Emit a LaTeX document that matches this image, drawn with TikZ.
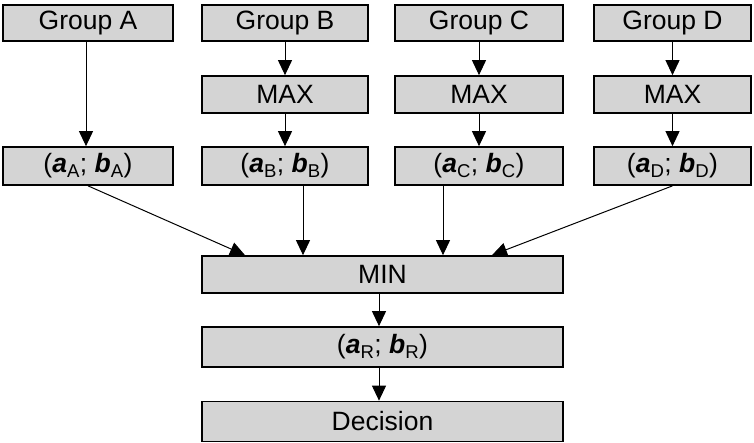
\documentclass[tikz,border=0pt]{standalone}
\usepackage{fontspec}
\setmainfont{Liberation Sans}
\usetikzlibrary{arrows.meta}
\definecolor{boxgray}{RGB}{212,212,212}
\newcommand\abpair[1]{({\bfseries\itshape a}\textsubscript{#1}; {\bfseries\itshape b}\textsubscript{#1})}
\begin{document}
\begin{tikzpicture}[x=1pt,y=1pt,
  box/.style={draw=black,fill=boxgray,line width=1.7pt,inner sep=0pt,
    font=\fontsize{26.5}{31}\selectfont},
  arr/.style={line width=1pt,-{Triangle[length=15pt,width=14pt]}}]
\useasboundingbox (0,0) rectangle (754,-443);
% top row
\node[box,minimum width=170pt,minimum height=36pt] (GA) at (88,-23) {Group A};
\node[box,minimum width=166pt,minimum height=36pt] (GB) at (285,-23) {Group B};
\node[box,minimum width=168pt,minimum height=36pt] (GC) at (479,-23) {Group C};
\node[box,minimum width=157pt,minimum height=36pt] (GD) at (672.5,-23) {Group D};
% MAX row
\node[box,minimum width=166pt,minimum height=37pt] (MB) at (285,-94.5) {MAX};
\node[box,minimum width=168pt,minimum height=37pt] (MC) at (479,-94.5) {MAX};
\node[box,minimum width=157pt,minimum height=37pt] (MD) at (672.5,-94.5) {MAX};
% pair row
\node[box,minimum width=170pt,minimum height=38pt] (PA) at (88,-166) {\abpair{A}};
\node[box,minimum width=166pt,minimum height=38pt] (PB) at (285,-166) {\abpair{B}};
\node[box,minimum width=168pt,minimum height=38pt] (PC) at (479,-166) {\abpair{C}};
\node[box,minimum width=157pt,minimum height=38pt] (PD) at (672.5,-166) {\abpair{D}};
% bottom
\node[box,minimum width=361pt,minimum height=37pt] (MIN) at (382.5,-274.5) {MIN};
\node[box,minimum width=361pt,minimum height=40pt] (PR) at (382.5,-347) {\abpair{R}};
\node[box,minimum width=361pt,minimum height=40pt] (DEC) at (382.5,-421.5) {Decision};
% arrows
\draw[arr] (GA.south -| 86,0) -- (PA.north -| 86,0);
\draw[arr] (GB) -- (MB);
\draw[arr] (MB) -- (PB);
\draw[arr] (GC) -- (MC);
\draw[arr] (MC) -- (PC);
\draw[arr] (GD) -- (MD);
\draw[arr] (MD) -- (PD);
\draw[arr] (PA.south) -- (MIN.north -| 245,0);
\draw[arr] (PB.south -| 303,0) -- (MIN.north -| 303,0);
\draw[arr] (PC.south -| 443,0) -- (MIN.north -| 443,0);
\draw[arr] (PD.south) -- (MIN.north -| 492,0);
\draw[arr] (MIN.south -| 379,0) -- (PR.north -| 379,0);
\draw[arr] (PR.south -| 379,0) -- (DEC.north -| 379,0);
\end{tikzpicture}
\end{document}
